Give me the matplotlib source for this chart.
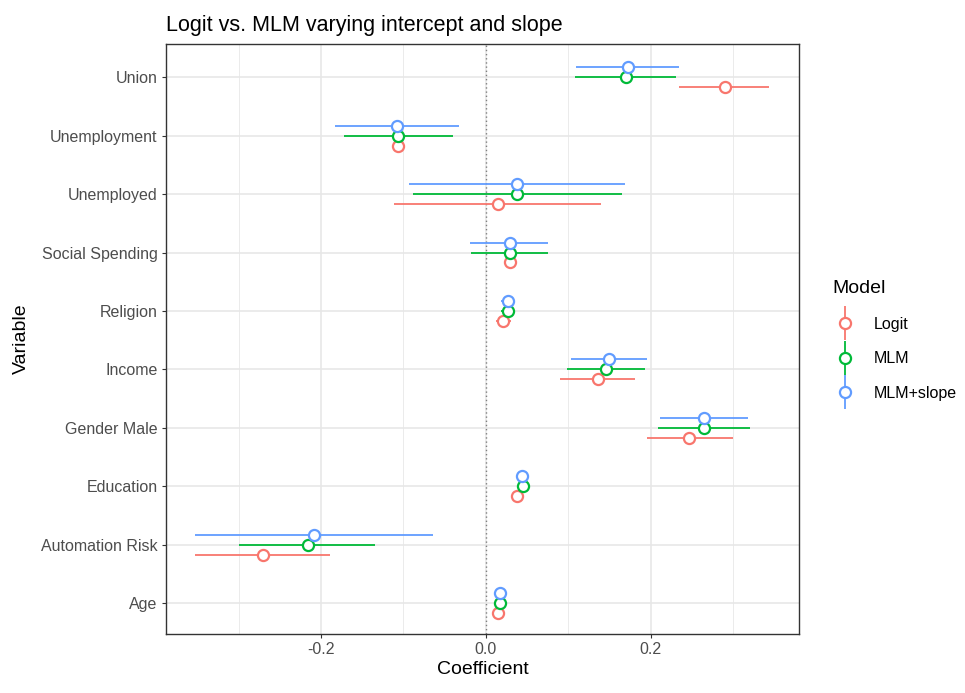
import matplotlib.pyplot as plt
import numpy as np
from matplotlib.lines import Line2D

plt.rcParams['font.family'] = ['Liberation Sans', 'DejaVu Sans']

# variables, bottom to top
variables = ['Age', 'Automation Risk', 'Education', 'Gender Male', 'Income',
             'Religion', 'Social Spending', 'Unemployed', 'Unemployment', 'Union']
models = ['Logit', 'MLM', 'MLM+slope']
colors = ['#F8766D', '#00BA38', '#619CFF']

logit_est = [0.015, -0.270, 0.038, 0.247, 0.136, 0.021, 0.029, 0.015, -0.106, 0.290]
logit_lo = [0.010, -0.353, 0.034, 0.195, 0.090, 0.012, 0.024, -0.111, -0.112, 0.234]
logit_hi = [0.020, -0.189, 0.042, 0.300, 0.181, 0.030, 0.034, 0.140, -0.100, 0.344]

mlm_est = [0.017, -0.216, 0.045, 0.265, 0.146, 0.027, 0.029, 0.038, -0.106, 0.170]
mlm_lo = [0.013, -0.299, 0.041, 0.209, 0.099, 0.019, -0.018, -0.088, -0.172, 0.108]
mlm_hi = [0.021, -0.134, 0.049, 0.320, 0.193, 0.036, 0.075, 0.165, -0.040, 0.231]

slope_est = [0.017, -0.208, 0.044, 0.265, 0.150, 0.027, 0.029, 0.038, -0.108, 0.172]
slope_lo = [0.013, -0.353, 0.040, 0.211, 0.103, 0.019, -0.019, -0.093, -0.183, 0.109]
slope_hi = [0.021, -0.064, 0.048, 0.318, 0.195, 0.035, 0.075, 0.169, -0.032, 0.234]

est = [logit_est, mlm_est, slope_est]
lo = [logit_lo, mlm_lo, slope_lo]
hi = [logit_hi, mlm_hi, slope_hi]

fig = plt.figure(figsize=(9.65, 6.93), dpi=100)
ax = fig.add_axes([166/965, 59/693, 633/965, 590/693])

dodge = 0.17
pos = np.arange(1, len(variables) + 1)

ax.axvline(0, color='#7f7f7f', linestyle=(0, (1, 2)), linewidth=1.0, zorder=1)

for i, m in enumerate(models):
    y = pos + (i - 1) * dodge
    ax.hlines(y, lo[i], hi[i], color=colors[i], linewidth=1.3, zorder=2)
    ax.scatter(est[i], y, s=64, facecolor='white', edgecolor=colors[i],
               linewidth=1.6, zorder=3)

ax.set_xlim(-0.388, 0.380)
ax.set_ylim(0.47, 10.57)
ax.set_yticks(pos)
ax.set_yticklabels(variables)
ax.set_xticks([-0.2, 0.0, 0.2])
ax.set_xticklabels(['-0.2', '0.0', '0.2'])
ax.set_xticks([-0.3, -0.1, 0.1, 0.3], minor=True)

ax.grid(True, which='major', color='#E6E6E6', linewidth=1.1, zorder=0)
ax.grid(True, which='minor', axis='x', color='#EBEBEB', linewidth=0.7, zorder=0)
ax.set_axisbelow(True)
for s in ax.spines.values():
    s.set_color('#333333')
    s.set_linewidth(1.0)
ax.tick_params(which='major', length=3, color='#333333', labelsize=11.5,
               labelcolor='#4d4d4d', pad=3)
ax.tick_params(which='minor', length=0)

ax.set_xlabel('Coefficient', fontsize=14, labelpad=3)
ax.set_ylabel('Variable', fontsize=14, labelpad=8)
ax.set_title('Logit vs. MLM varying intercept and slope', fontsize=15.5,
             loc='left', pad=9)

handles = []
for c in colors:
    bar = Line2D([], [], color=c, marker='|', markersize=24, linestyle='None',
                 markeredgewidth=1.3)
    dot = Line2D([], [], color=c, marker='o', markersize=8, linestyle='None',
                 markerfacecolor='white', markeredgewidth=1.6)
    handles.append((bar, dot))

leg = fig.legend(handles, models, title='Model', loc='upper left',
                 bbox_to_anchor=(818/965, 1 - 266/693), frameon=False,
                 fontsize=11.5, title_fontsize=14, handlelength=1.6,
                 labelspacing=1.22, handletextpad=1.0)
leg._legend_box.align = 'left'

fig.savefig('out.png', dpi=100)
